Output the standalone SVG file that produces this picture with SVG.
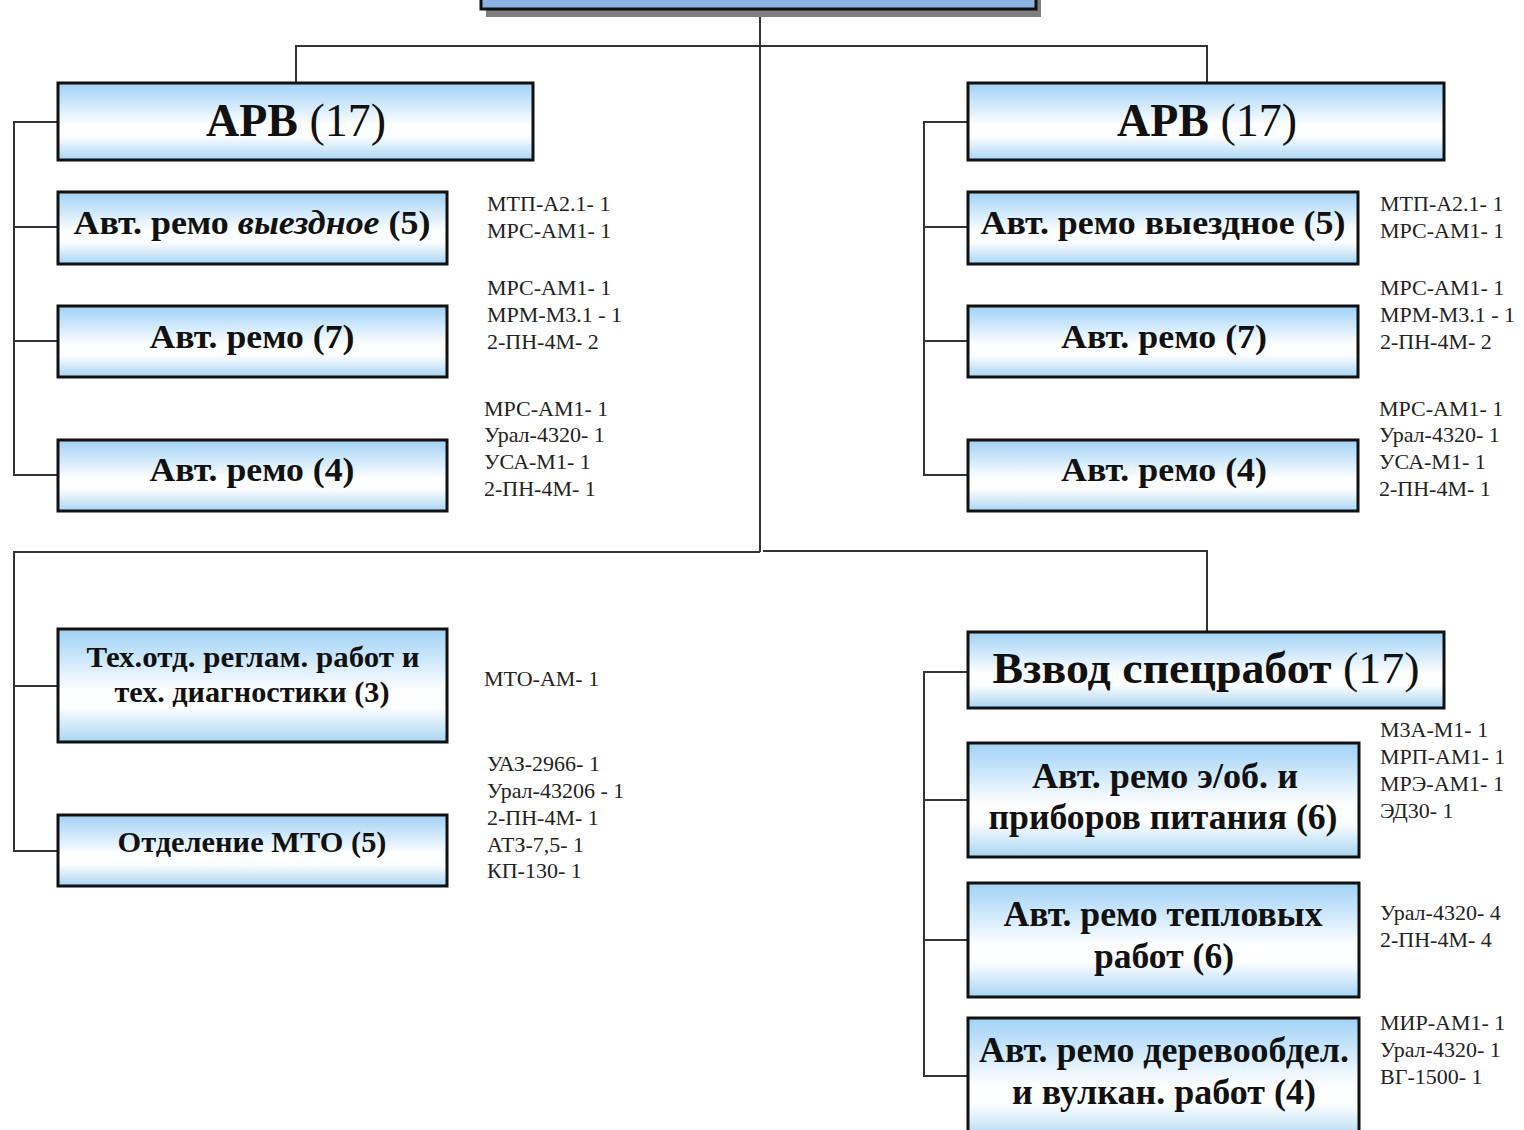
<svg xmlns="http://www.w3.org/2000/svg" width="1524" height="1130" viewBox="0 0 1524 1130">
<defs>
<linearGradient id="g" x1="0" y1="0" x2="0" y2="1">
<stop offset="0" stop-color="#a0d1f6"/>
<stop offset="0.55" stop-color="#ffffff"/>
<stop offset="0.7" stop-color="#fbfdff"/>
<stop offset="1" stop-color="#a8d5f4"/>
</linearGradient>
</defs>
<style>
.box{fill:url(#g);stroke:#111;stroke-width:3}
.c{fill:none;stroke:#333;stroke-width:2}
.t{font-family:"Liberation Serif","Times New Roman",serif;font-weight:bold;fill:#111;text-anchor:middle}
.n{font-weight:normal}
.s{font-family:"Liberation Serif","Times New Roman",serif;font-size:22px;fill:#222}
</style>
<rect width="1524" height="1130" fill="#fff"/>
<g id="connectors">
<path class="c" d="M760,8 V552"/>
<path class="c" d="M296,83 V46 H1207 V83"/>
<path class="c" d="M58,122 H14 V475 H58 M14,227 H58 M14,341 H58"/>
<path class="c" d="M968,122 H924 V475 H968 M924,227 H968 M924,341 H968"/>
<path class="c" d="M760,552 H14 V851 H58 M14,686 H58"/>
<path class="c" d="M763,551 H1207 V632"/>
<path class="c" d="M968,672 H924 V1076 H968 M924,800 H968 M924,940 H968"/>
</g>
<g id="top">
<rect x="486" y="-10" width="555" height="27" fill="#7f7f7f"/>
<rect x="481" y="-14" width="555" height="23" fill="#8db3e2" stroke="#111" stroke-width="3"/>
</g>
<g id="arv-left">
<rect class="box" x="58" y="83" width="475" height="77"/>
<text class="t" x="296" y="136" font-size="47" textLength="180" lengthAdjust="spacingAndGlyphs">АРВ <tspan class="n">(17)</tspan></text>
</g>
<g id="arv-right">
<rect class="box" x="968" y="83" width="476" height="77"/>
<text class="t" x="1207" y="136" font-size="47" textLength="180" lengthAdjust="spacingAndGlyphs">АРВ <tspan class="n">(17)</tspan></text>
</g>
<g id="l1">
<rect class="box" x="58" y="192" width="389" height="72"/>
<text class="t" x="252" y="234" font-size="34" textLength="357" lengthAdjust="spacingAndGlyphs">Авт. ремо <tspan font-style="italic">выездное</tspan> (5)</text>
</g>
<g id="l2">
<rect class="box" x="58" y="306" width="389" height="71"/>
<text class="t" x="252" y="348" font-size="34" textLength="205" lengthAdjust="spacingAndGlyphs">Авт. ремо (7)</text>
</g>
<g id="l3">
<rect class="box" x="58" y="440" width="389" height="71"/>
<text class="t" x="252" y="481" font-size="34" textLength="205" lengthAdjust="spacingAndGlyphs">Авт. ремо (4)</text>
</g>
<g id="r1">
<rect class="box" x="968" y="192" width="390" height="72"/>
<text class="t" x="1163" y="234" font-size="34" textLength="365" lengthAdjust="spacingAndGlyphs">Авт. ремо выездное (5)</text>
</g>
<g id="r2">
<rect class="box" x="968" y="306" width="390" height="71"/>
<text class="t" x="1164" y="348" font-size="34" textLength="206" lengthAdjust="spacingAndGlyphs">Авт. ремо (7)</text>
</g>
<g id="r3">
<rect class="box" x="968" y="440" width="390" height="71"/>
<text class="t" x="1164" y="481" font-size="34" textLength="206" lengthAdjust="spacingAndGlyphs">Авт. ремо (4)</text>
</g>
<g id="tex">
<rect class="box" x="58" y="629" width="389" height="113"/>
<text class="t" x="253" y="667" font-size="29" textLength="333" lengthAdjust="spacingAndGlyphs">Тех.отд. реглам. работ и</text>
<text class="t" x="252" y="702" font-size="29" textLength="275" lengthAdjust="spacingAndGlyphs">тех. диагностики (3)</text>
</g>
<g id="mto">
<rect class="box" x="58" y="815" width="389" height="71"/>
<text class="t" x="252" y="852" font-size="29" textLength="269" lengthAdjust="spacingAndGlyphs">Отделение МТО (5)</text>
</g>
<g id="vzvod">
<rect class="box" x="968" y="632" width="476" height="76"/>
<text class="t" x="1206" y="683" font-size="45" textLength="427" lengthAdjust="spacingAndGlyphs">Взвод спецработ <tspan class="n">(17)</tspan></text>
</g>
<g id="eob">
<rect class="box" x="968" y="743" width="391" height="114"/>
<text class="t" x="1165" y="788" font-size="36" textLength="266" lengthAdjust="spacingAndGlyphs">Авт. ремо э/об. и</text>
<text class="t" x="1163" y="829" font-size="36" textLength="349" lengthAdjust="spacingAndGlyphs">приборов питания (6)</text>
</g>
<g id="tepl">
<rect class="box" x="968" y="883" width="391" height="114"/>
<text class="t" x="1163" y="926" font-size="36" textLength="319" lengthAdjust="spacingAndGlyphs">Авт. ремо тепловых</text>
<text class="t" x="1164" y="968" font-size="36" textLength="140" lengthAdjust="spacingAndGlyphs">работ (6)</text>
</g>
<g id="drev">
<rect class="box" x="968" y="1018" width="391" height="124"/>
<text class="t" x="1164" y="1062" font-size="36" textLength="370" lengthAdjust="spacingAndGlyphs">Авт. ремо деревообдел.</text>
<text class="t" x="1164" y="1104" font-size="36" textLength="304" lengthAdjust="spacingAndGlyphs">и вулкан. работ (4)</text>
</g>
<g id="labels">
<text class="s" x="487" y="211">МТП-А2.1- 1</text>
<text class="s" x="487" y="238">МРС-АМ1- 1</text>
<text class="s" x="487" y="295">МРС-АМ1- 1</text>
<text class="s" x="487" y="322">МРМ-М3.1 - 1</text>
<text class="s" x="487" y="349">2-ПН-4М- 2</text>
<text class="s" x="484" y="416">МРС-АМ1- 1</text>
<text class="s" x="484" y="442">Урал-4320- 1</text>
<text class="s" x="484" y="469">УСА-М1- 1</text>
<text class="s" x="484" y="496">2-ПН-4М- 1</text>
<text class="s" x="484" y="686">МТО-АМ- 1</text>
<text class="s" x="487" y="771">УАЗ-2966- 1</text>
<text class="s" x="487" y="798">Урал-43206 - 1</text>
<text class="s" x="487" y="825">2-ПН-4М- 1</text>
<text class="s" x="487" y="852">АТЗ-7,5- 1</text>
<text class="s" x="487" y="878">КП-130- 1</text>
<text class="s" x="1380" y="211">МТП-А2.1- 1</text>
<text class="s" x="1380" y="238">МРС-АМ1- 1</text>
<text class="s" x="1380" y="295">МРС-АМ1- 1</text>
<text class="s" x="1380" y="322">МРМ-М3.1 - 1</text>
<text class="s" x="1380" y="349">2-ПН-4М- 2</text>
<text class="s" x="1379" y="416">МРС-АМ1- 1</text>
<text class="s" x="1379" y="442">Урал-4320- 1</text>
<text class="s" x="1379" y="469">УСА-М1- 1</text>
<text class="s" x="1379" y="496">2-ПН-4М- 1</text>
<text class="s" x="1380" y="737">М3А-М1- 1</text>
<text class="s" x="1380" y="764">МРП-АМ1- 1</text>
<text class="s" x="1380" y="791">МРЭ-АМ1- 1</text>
<text class="s" x="1380" y="818">ЭД30- 1</text>
<text class="s" x="1380" y="920">Урал-4320- 4</text>
<text class="s" x="1380" y="947">2-ПН-4М- 4</text>
<text class="s" x="1380" y="1030">МИР-АМ1- 1</text>
<text class="s" x="1380" y="1057">Урал-4320- 1</text>
<text class="s" x="1380" y="1084">ВГ-1500- 1</text>
</g>
</svg>
